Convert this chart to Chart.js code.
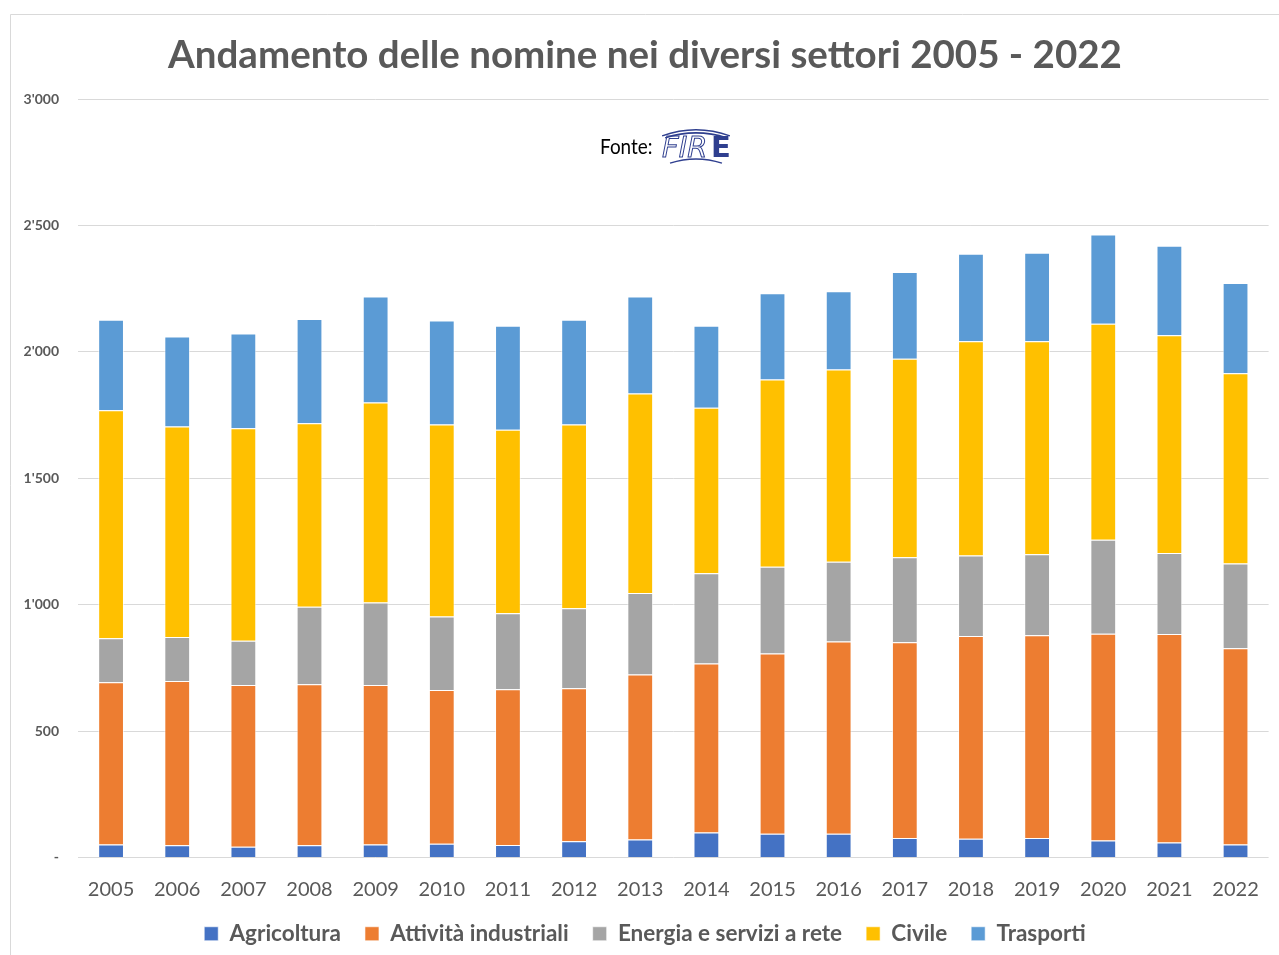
<!DOCTYPE html>
<html>
<head>
<meta charset="utf-8">
<script src="https://cdn.jsdelivr.net/npm/chart.js@4.4.1/dist/chart.umd.min.js"></script>
<style>
    html, body { margin: 0; padding: 0; background: #ffffff; }
    #wrap { position: relative; width: 1279px; height: 955px; }
</style>
</head>
<body>
<div id="wrap"><canvas id="nomineChart" width="1279" height="955"></canvas></div>
<script>
const anni = ['2005', '2006', '2007', '2008', '2009', '2010', '2011', '2012', '2013',
    '2014', '2015', '2016', '2017', '2018', '2019', '2020', '2021', '2022'];

const agricoltura = [51, 48, 43, 48, 51, 54, 49, 64, 71, 99, 94, 94, 77, 74, 77, 67, 59, 51];
const attivitaIndustriali = [642, 650, 639, 637, 631, 608, 616, 605, 653, 668, 713, 760, 774, 802, 802, 818, 825, 777];
const energiaServizi = [174, 174, 175, 307, 327, 291, 301, 317, 322, 357, 343, 316, 337, 318, 320, 372, 320, 335];
const civile = [902, 833, 841, 726, 791, 760, 726, 727, 789, 655, 741, 760, 785, 848, 843, 854, 862, 752];
const trasporti = [358, 356, 375, 412, 419, 411, 411, 414, 384, 324, 341, 310, 343, 346, 350, 353, 354, 357];

const yTicks = [0, 500, 1000, 1500, 2000, 2500, 3000];

const grigioTesto = '#595959';

// cornice del grafico + "Fonte: FIRE"
const decorazioni = {
    id: 'decorazioni',
    beforeDraw(chart) {
        const ctx = chart.ctx;
        ctx.save();
        ctx.fillStyle = '#ffffff';
        ctx.fillRect(0, 0, chart.width, chart.height);
        ctx.strokeStyle = '#d9d9d9';
        ctx.lineWidth = 1;
        ctx.beginPath();
        ctx.moveTo(10.5, 960);
        ctx.lineTo(10.5, 14.5);
        ctx.lineTo(1285, 14.5);
        ctx.stroke();
        ctx.restore();
    },
    afterDraw(chart) {
        const ctx = chart.ctx;
        ctx.save();
        ctx.fillStyle = '#000000';
        ctx.font = '22px Lato';
        ctx.textBaseline = 'middle';
        ctx.translate(600, 147);
        ctx.scale(0.86, 1);
        ctx.fillText('Fonte:', 0, 0);
        ctx.setTransform(1, 0, 0, 1, 0, 0);

        // logo FIRE
        const blu = '#2f3f8f';
        ctx.strokeStyle = blu;
        ctx.lineWidth = 1.5;
        ctx.beginPath();
        ctx.arc(696, 230, 100, Math.PI * 1.39, Math.PI * 1.61);
        ctx.stroke();
        ctx.beginPath();
        ctx.arc(696, 233, 100, Math.PI * 1.40, Math.PI * 1.60);
        ctx.stroke();
        ctx.beginPath();
        ctx.arc(696, 243, 84, Math.PI * 1.40, Math.PI * 1.60);
        ctx.stroke();
        ctx.font = 'italic 29px "DejaVu Sans"';
        ctx.lineWidth = 1;
        ctx.textBaseline = 'middle';
        ctx.strokeText('FIR', 662, 149);
        ctx.fillStyle = blu;
        ctx.font = 'bold 29px "DejaVu Sans"';
        ctx.fillText('E', 711, 149);
        ctx.restore();
    }
};

const ctx = document.getElementById('nomineChart').getContext('2d');
new Chart(ctx, {
    type: 'bar',
    data: {
        labels: anni,
        datasets: [
            { label: 'Agricoltura', data: agricoltura, backgroundColor: '#4472C4' },
            { label: 'Attività industriali', data: attivitaIndustriali, backgroundColor: '#ED7D31' },
            { label: 'Energia e servizi a rete', data: energiaServizi, backgroundColor: '#A5A5A5' },
            { label: 'Civile', data: civile, backgroundColor: '#FFC000' },
            { label: 'Trasporti', data: trasporti, backgroundColor: '#5B9BD5' }
        ].map(ds => Object.assign(ds, {
            borderColor: 'rgba(255,255,255,0.6)',
            borderWidth: 1,
            categoryPercentage: 1,
            barPercentage: 0.39
        }))
    },
    options: {
        responsive: false,
        animation: false,
        layout: { padding: { left: 20, right: 9, top: 0, bottom: 0 } },
        plugins: {
            title: {
                display: true,
                text: 'Andamento delle nomine nei diversi settori 2005 - 2022',
                color: grigioTesto,
                font: { family: 'Lato', size: 38.5, weight: 'bold' },
                padding: { top: 32.5, bottom: 20.3 }
            },
            legend: {
                position: 'bottom',
                labels: {
                    color: grigioTesto,
                    font: { family: 'Lato', size: 22.5, weight: 'bold' },
                    boxWidth: 14,
                    boxHeight: 14,
                    padding: 24
                }
            },
            tooltip: { enabled: false }
        },
        scales: {
            x: {
                stacked: true,
                grid: { display: false, drawTicks: false },
                border: { display: false },
                afterFit(scale) {
                    scale.height = 41;
                },
                ticks: {
                    color: grigioTesto,
                    font: { family: 'Lato', size: 20 },
                    padding: 20,
                    maxRotation: 0
                }
            },
            y: {
                stacked: true,
                min: 0,
                max: 3000,
                afterBuildTicks(scale) {
                    scale.ticks = yTicks.map(v => ({ value: v }));
                },
                afterFit(scale) {
                    scale.width = 58;
                },
                grid: { color: '#d9d9d9', lineWidth: 1, drawTicks: false },
                border: { display: false },
                ticks: {
                    color: grigioTesto,
                    font: { family: 'Lato', size: 14, weight: 'bold' },
                    padding: 19,
                    callback: v => v === 0 ? '-' : String(v).replace(/\B(?=(\d{3})+(?!\d))/g, "'")
                }
            }
        }
    },
    plugins: [decorazioni]
});
</script>
</body>
</html>
